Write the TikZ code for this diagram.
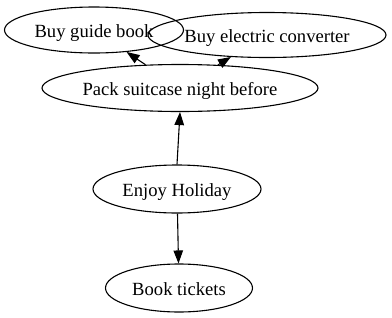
\documentclass[tikz,border=0pt]{standalone}
\usepackage{fontspec}
\setmainfont{Liberation Serif}
\usetikzlibrary{shapes.geometric,arrows.meta}
\begin{document}
\begin{tikzpicture}[x=1pt,y=-1pt,
  nd/.style={draw,ellipse,inner sep=0pt,font=\fontsize{18.6}{20}\selectfont,line width=1.1pt,text height=17.5pt,text depth=2pt},
  ar/.style={draw,line width=1.1pt,-{Triangle[length=13pt,width=9.5pt]}}]
\useasboundingbox (0,0) rectangle (392,317);
\node[nd,minimum width=179pt,minimum height=46pt] (guide) at (94,30) {Buy guide book};
\node[nd,minimum width=238pt,minimum height=45pt] (conv) at (267,35) {Buy electric converter};
\node[nd,minimum width=276pt,minimum height=47pt] (pack) at (180,88) {Pack suitcase night before};
\node[nd,minimum width=168pt,minimum height=48pt] (enjoy) at (177,189) {Enjoy Holiday};
\node[nd,minimum width=147pt,minimum height=48pt] (book) at (179,288) {Book tickets};
\draw[ar] (pack) -- (guide);
\draw[ar] (pack) -- (conv);
\draw[ar] (enjoy.north) -- (pack.south);
\draw[ar] (enjoy) -- (book);
\end{tikzpicture}
\end{document}
